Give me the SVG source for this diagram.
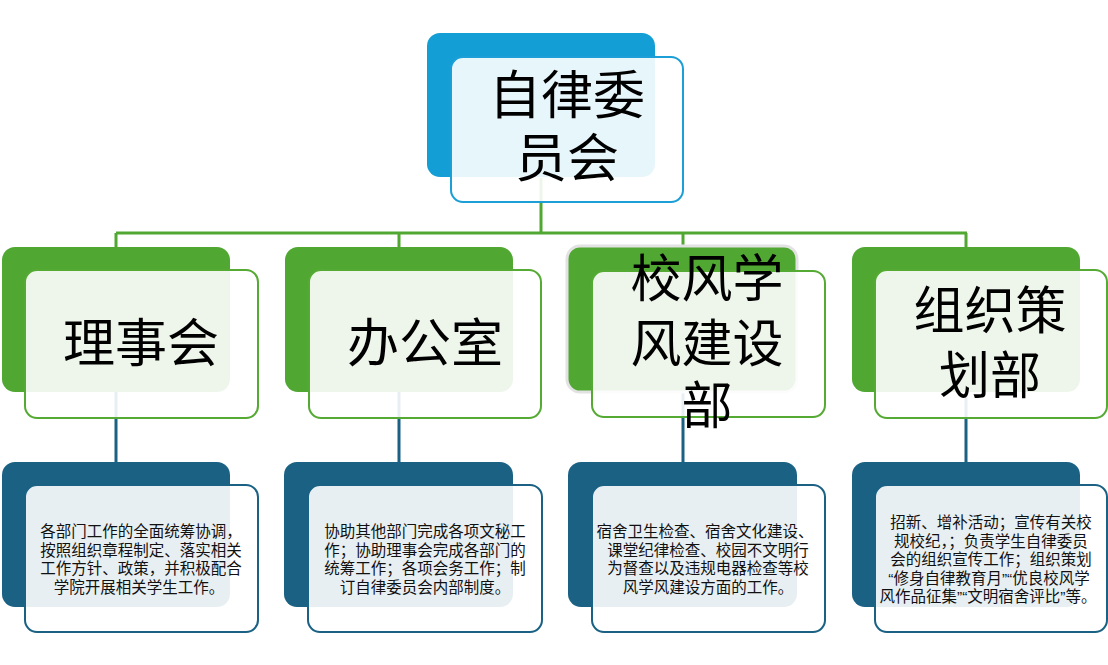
<svg xmlns="http://www.w3.org/2000/svg" width="1108" height="665" viewBox="0 0 1108 665">
<style>
.bg{fill:#ffffff}
.backTop{fill:#139fd6}
.frontTop{fill:#ffffff;fill-opacity:0.9;stroke:#1b9fd6;stroke-width:2}
.backG{fill:#50a732}
.frontG{fill:#ffffff;fill-opacity:0.9;stroke:#55aa33;stroke-width:2}
.backB{fill:#1a6184}
.frontB{fill:#ffffff;fill-opacity:0.9;stroke:#1a6184;stroke-width:2}
.big{font-family:"Liberation Sans","Noto Sans CJK SC",sans-serif;font-size:51px;fill:#000;text-anchor:middle}
.small{font-family:"Liberation Sans","Noto Sans CJK SC",sans-serif;font-size:15.5px;fill:#111;text-anchor:middle}
.cg{stroke:#50a732;stroke-width:3;fill:none}
.cb{stroke:#1a6184;stroke-width:3;fill:none}
</style>
<rect class="bg" x="0" y="0" width="1108" height="665"/>
<g id="connectors">
  <path class="cg" d="M541 178 V233 M116 233 H967 M116 233 V248 M399 233 V248 M683 233 V248 M966 233 V248"/>
  <path class="cb" d="M116 392 V463 M399 392 V463 M683 392 V463 M966 392 V463"/>
</g>
<g id="node-top">
  <rect class="backTop" x="427" y="33" width="228" height="144" rx="13"/>
  <rect class="frontTop" x="451" y="57" width="232" height="145" rx="12"/>
  <text class="big" x="567" y="114" style="font-size:52px">自律委</text>
  <text class="big" x="567" y="177" style="font-size:52px">员会</text>
</g>
<g id="node-lishihui">
  <rect class="backG" x="2" y="247" width="228" height="145" rx="13"/>
  <rect class="frontG" x="25" y="270" width="233" height="148" rx="12"/>
  <text class="big" x="141" y="362" style="font-size:52px">理事会</text>
</g>
<g id="node-bangongshi">
  <rect class="backG" x="285" y="247" width="228" height="145" rx="13"/>
  <rect class="frontG" x="309" y="270" width="232" height="148" rx="12"/>
  <text class="big" x="425" y="362" style="font-size:52px">办公室</text>
</g>
<g id="node-xiaofeng">
  <rect class="backG" x="567" y="246" width="230" height="146" rx="13" stroke="#e2e2e2" stroke-width="3"/>
  <rect class="frontG" x="592" y="271" width="233" height="146" rx="12"/>
  <text class="big" x="707" y="297">校风学</text>
  <text class="big" x="707" y="362">风建设</text>
  <text class="big" x="707" y="424">部</text>
</g>
<g id="node-zuzhi">
  <rect class="backG" x="852" y="247" width="228" height="145" rx="13"/>
  <rect class="frontG" x="875" y="270" width="232" height="148" rx="12"/>
  <text class="big" x="990" y="329">组织策</text>
  <text class="big" x="990" y="394">划部</text>
</g>
<g id="desc-lishihui">
  <rect class="backB" x="2" y="462" width="228" height="145" rx="13"/>
  <rect class="frontB" x="25" y="485" width="233" height="147" rx="12"/>
  <text class="small" x="141" y="537">各部门工作的全面统筹协调，</text>
  <text class="small" x="141" y="556">按照组织章程制定、落实相关</text>
  <text class="small" x="141" y="574">工作方针、政策，并积极配合</text>
  <text class="small" x="139" y="593">学院开展相关学生工作。</text>
</g>
<g id="desc-bangongshi">
  <rect class="backB" x="284" y="462" width="229" height="145" rx="13"/>
  <rect class="frontB" x="308" y="485" width="234" height="147" rx="12"/>
  <text class="small" x="425" y="537">协助其他部门完成各项文秘工</text>
  <text class="small" x="425" y="556">作；协助理事会完成各部门的</text>
  <text class="small" x="425" y="574">统筹工作；各项会务工作；制</text>
  <text class="small" x="425" y="593">订自律委员会内部制度。</text>
</g>
<g id="desc-xiaofeng">
  <rect class="backB" x="568" y="462" width="229" height="145" rx="13"/>
  <rect class="frontB" x="592" y="485" width="233" height="147" rx="12"/>
  <text class="small" x="705" y="537">宿舍卫生检查、宿舍文化建设、</text>
  <text class="small" x="708" y="556">课堂纪律检查、校园不文明行</text>
  <text class="small" x="708" y="574">为督查以及违规电器检查等校</text>
  <text class="small" x="708" y="593">风学风建设方面的工作。</text>
</g>
<g id="desc-zuzhi">
  <rect class="backB" x="852" y="462" width="228" height="145" rx="13"/>
  <rect class="frontB" x="875" y="485" width="232" height="147" rx="12"/>
  <text class="small" x="991" y="528">招新、增补活动；宣传有关校</text>
  <text class="small" x="991" y="547">规校纪，；负责学生自律委员</text>
  <text class="small" x="991" y="565">会的组织宣传工作；组织策划</text>
  <text class="small" x="989" y="584">“修身自律教育月”“优良校风学</text>
  <text class="small" x="988" y="602">风作品征集”“文明宿舍评比”等。</text>
</g>
</svg>
